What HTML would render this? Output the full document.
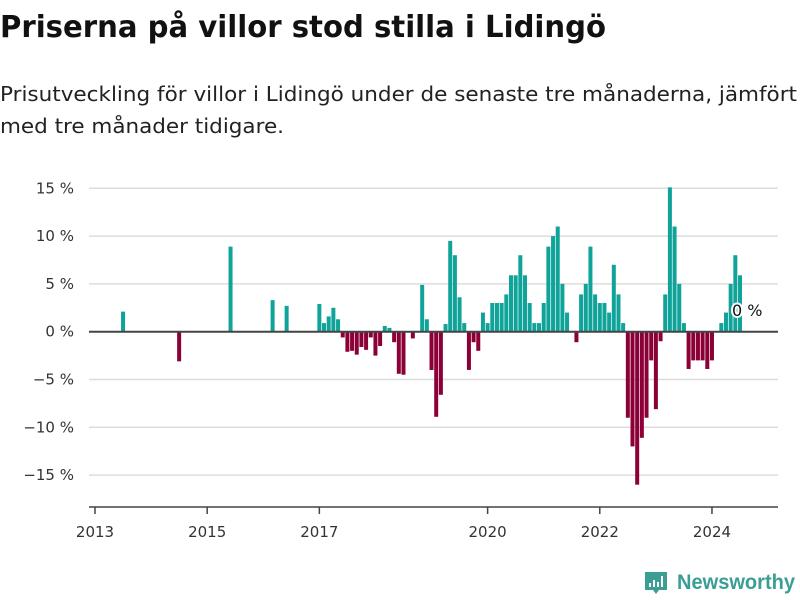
<!DOCTYPE html>
<html><head><meta charset="utf-8"><style>
html,body{margin:0;padding:0;background:#fff;}
svg{display:block;font-family:"DejaVu Sans","Liberation Sans",sans-serif;}
</style></head><body>
<svg id="chart" width="800" height="600">
<text x="0" y="37" font-size="30" font-weight="bold" fill="#111" textLength="606" lengthAdjust="spacingAndGlyphs">Priserna på villor stod stilla i Lidingö</text>
<text x="0" y="101" font-size="20" fill="#222" textLength="797" lengthAdjust="spacingAndGlyphs">Prisutveckling för villor i Lidingö under de senaste tre månaderna, jämfört</text>
<text x="0" y="133" font-size="20" fill="#222" textLength="284" lengthAdjust="spacingAndGlyphs">med tre månader tidigare.</text>
<g id="grid"></g>
<g id="yaxis"></g>
<g id="bars"></g>
<g id="xaxis"></g>
<g>
<path d="M645 572 h22 v18 h-8 l-3 4 l-3 -4 h-8 z" fill="#3a9e95"/>
<rect x="649" y="583" width="2" height="4" fill="#fff"/><rect x="653" y="580" width="2" height="7" fill="#fff"/><rect x="657" y="582" width="2" height="5" fill="#fff"/><rect x="661" y="576" width="2" height="11" fill="#fff"/>
<text x="677" y="589" font-size="21" font-weight="bold" fill="#3a9e95" font-family="Liberation Sans, sans-serif" textLength="118" lengthAdjust="spacingAndGlyphs">Newsworthy</text>
</g>
</svg>
<script>
// monthly values starting 2013-01 (index 0); null = no bar
const startYear = 2013;
const values = [
null,null,null,null,null,null,2.1,null,null,null,null,null,
null,null,null,null,null,null,-3.1,null,null,null,null,null,
null,null,null,null,null,8.9,null,null,null,null,null,null,
null,null,3.3,null,null,2.7,null,null,null,null,null,null,
2.9,0.9,1.6,2.5,1.3,-0.6,-2.1,-2.0,-2.4,-1.6,-1.9,-0.6,
-2.5,-1.5,0.6,0.4,-1.1,-4.4,-4.5,null,-0.7,null,4.9,1.3,
-4.0,-8.9,-6.6,0.8,9.5,8.0,3.6,0.9,-4.0,-1.1,-2.0,2.0,
0.9,3.0,3.0,3.0,3.9,5.9,5.9,8.0,5.9,3.0,0.9,0.9,
3.0,8.9,10.0,11.0,5.0,2.0,null,-1.1,3.9,5.0,8.9,3.9,
3.0,3.0,2.0,7.0,3.9,0.9,-9.0,-12.0,-16.0,-11.1,-9.0,-3.0,
-8.1,-1.0,3.9,15.1,11.0,5.0,0.9,-3.9,-3.0,-3.0,-3.0,-3.9,
-3.0,null,0.9,2.0,5.0,8.0,5.9
];
const yTicks = [15,10,5,0,-5,-10,-15];
const yTickLabels = ["15 %","10 %","5 %","0 %","\u22125 %","\u221210 %","\u221215 %"];
const xTickYears = [2013,2015,2017,2020,2022,2024];
const lastLabel = "0 %";

const NS="http://www.w3.org/2000/svg";
const X0=95, PXM=4.674, Y0=331.7, PXP=9.56, L=89, R=778;
const x = m => X0 + m*PXM;
const y = v => Y0 - v*PXP;
function mk(tag, attrs, parent){const e=document.createElementNS(NS,tag);for(const k in attrs)e.setAttribute(k,attrs[k]);parent.appendChild(e);return e;}
const grid=document.getElementById('grid'), ya=document.getElementById('yaxis'), bars=document.getElementById('bars'), xa=document.getElementById('xaxis');

yTicks.forEach((t,i)=>{
  const gl=mk('line',{x1:L,x2:R,y1:y(t),y2:y(t),stroke:t===0?'#444':'#ddd','stroke-width':t===0?2:1.5},t===0?xa:grid);
  
  
  const tx=mk('text',{x:74,y:y(t)+5,'text-anchor':'end','font-size':15,fill:'#333'},ya);
  tx.textContent=yTickLabels[i];
  
  
});

values.forEach((v,m)=>{
  if(v===null||v===undefined)return;
  const top=v>=0?y(v):Y0, h=Math.abs(v)*PXP;
  const r=mk('rect',{x:x(m)-2,y:top,width:4,height:h,fill:v>=0?'#0fa399':'#8c0038'},bars);
  
  
});

const ax=mk('line',{x1:L,x2:R,y1:507,y2:507,stroke:'#444','stroke-width':1.5},xa);


xTickYears.forEach(yr=>{
  const px=x((yr-startYear)*12);
  const tk=mk('line',{x1:px,x2:px,y1:507,y2:514,stroke:'#444','stroke-width':1.5},xa);
  
  
  const tx=mk('text',{x:px,y:537,'text-anchor':'middle','font-size':15,fill:'#333'},xa);
  tx.textContent=yr;
  
  
});

const lm=values.length-1;
const lbl=mk('text',{x:x(lm)-8,y:316,'font-size':16,fill:'#111',stroke:'#fff','stroke-width':4,'paint-order':'stroke','stroke-linejoin':'round'},bars);
lbl.textContent=lastLabel;


</script>
</body></html>
